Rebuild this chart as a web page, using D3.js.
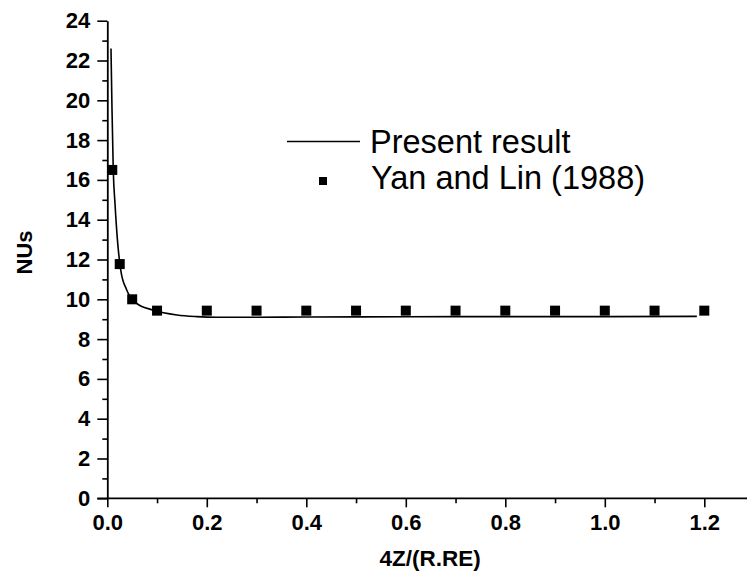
<!DOCTYPE html>
<html>
<head>
    <meta charset="utf-8">
    <title>NUs vs 4Z/(R.RE)</title>
    <style>
        body { margin: 0; background: #fff; }
        svg text { font-family: "Liberation Sans", Arial, sans-serif; }
    </style>
</head>
<body>
    <div id="grafico"></div>
    <script src="https://d3js.org/d3.v7.min.js"></script>
    <script>
        // Dados
        const curveX = [0.0074, 0.0095, 0.012, 0.0155, 0.02, 0.027, 0.039, 0.059, 0.092, 0.14, 0.18, 0.22, 0.3, 0.4, 0.6, 0.8, 1.0, 1.185];
        const curveY = [22.6, 19.5, 16.5, 14.8, 13.1, 11.47, 10.47, 9.8, 9.46, 9.21, 9.13, 9.1, 9.1, 9.11, 9.12, 9.13, 9.13, 9.14];

        const refX = [0.01, 0.025, 0.05, 0.1, 0.2, 0.3, 0.4, 0.5, 0.6, 0.7, 0.8, 0.9, 1.0, 1.1, 1.2];
        const refY = [16.5, 11.77, 10.0, 9.43, 9.43, 9.43, 9.43, 9.43, 9.43, 9.43, 9.43, 9.43, 9.43, 9.43, 9.43];

        const xTicks = [0, 0.2, 0.4, 0.6, 0.8, 1.0, 1.2];
        const xMinor = [0.1, 0.3, 0.5, 0.7, 0.9, 1.1];
        const yTicks = [0, 2, 4, 6, 8, 10, 12, 14, 16, 18, 20, 22, 24];
        const yMinor = [1, 3, 5, 7, 9, 11, 13, 15, 17, 19, 21, 23];

        const seriesNames = ["Present result", "Yan and Lin (1988)"];

        const W = 747, H = 577;

        const svg = d3.select("#grafico")
            .append("svg")
            .attr("width", W)
            .attr("height", H);

        // Escalas
        const x = d3.scaleLinear().domain([0, 1.2]).range([107.3, 704.3]);
        const y = d3.scaleLinear().domain([0, 24]).range([498.3, 20.7]);
        const xEnd = W; // eixo x vai até a borda

        // Eixo Y - menores
        svg.append("g")
            .attr("transform", `translate(${x(0)},0)`)
            .call(d3.axisLeft(y).tickValues(yMinor).tickSize(5).tickFormat(""))
            .call(g => g.select(".domain").remove())
            .selectAll("line").attr("stroke-width", 1.6);

        // Eixo Y - maiores
        const gy = svg.append("g")
            .attr("transform", `translate(${x(0)},0)`)
            .call(d3.axisLeft(y).tickValues(yTicks).tickSize(10).tickSizeOuter(0).tickPadding(7).tickFormat(d3.format("d")));
        gy.select(".domain").attr("stroke-width", 1.8);
        gy.selectAll("line").attr("stroke-width", 1.6);
        gy.selectAll("text")
            .style("font-size", "22px")
            .style("font-weight", "bold")
            .attr("fill", "#000");

        // Eixo X - menores
        svg.append("g")
            .attr("transform", `translate(0,${y(0)})`)
            .call(d3.axisBottom(x).tickValues(xMinor).tickSize(5).tickFormat(""))
            .call(g => g.select(".domain").remove())
            .selectAll("line").attr("stroke-width", 1.6);

        // Eixo X - maiores
        const gx = svg.append("g")
            .attr("transform", `translate(0,${y(0)})`)
            .call(d3.axisBottom(x).tickValues(xTicks).tickSize(9).tickSizeOuter(0).tickPadding(7).tickFormat(d3.format(".1f")));
        gx.select(".domain").remove();
        gx.selectAll("line").attr("stroke-width", 1.6);
        gx.selectAll("text")
            .style("font-size", "22px")
            .style("font-weight", "bold")
            .attr("fill", "#000");

        // linha do eixo x até a borda
        svg.append("line")
            .attr("x1", x(0) - 10).attr("x2", xEnd)
            .attr("y1", y(0)).attr("y2", y(0))
            .attr("stroke", "#000")
            .attr("stroke-width", 1.8);

        // Títulos dos eixos
        svg.append("text")
            .attr("x", 430)
            .attr("y", 566)
            .attr("text-anchor", "middle")
            .style("font-size", "22.5px")
            .style("font-weight", "bold")
            .text("4Z/(R.RE)");

        svg.append("text")
            .attr("transform", `translate(32,${(y(0) + y(24)) / 2 - 7}) rotate(-90)`)
            .attr("text-anchor", "middle")
            .style("font-size", "22px")
            .style("font-weight", "bold")
            .text("NUs");

        // Curva
        const line = d3.line()
            .x((d, i) => x(curveX[i]))
            .y(d => y(d))
            .curve(d3.curveMonotoneX);

        svg.append("path")
            .datum(curveY)
            .attr("d", line)
            .attr("fill", "none")
            .attr("stroke", "#000")
            .attr("stroke-width", 1.6);

        // Pontos de referência
        const sq = 10;
        svg.selectAll("rect.ref")
            .data(refY)
            .join("rect")
            .attr("class", "ref")
            .attr("x", (d, i) => x(refX[i]) - sq / 2)
            .attr("y", d => y(d) - sq / 2)
            .attr("width", sq)
            .attr("height", sq)
            .attr("fill", "#000");

        // Legenda
        const leg = svg.append("g");
        leg.append("line")
            .attr("x1", 287).attr("x2", 360)
            .attr("y1", 141.5).attr("y2", 141.5)
            .attr("stroke", "#000")
            .attr("stroke-width", 1.6);
        leg.append("text")
            .attr("x", 370).attr("y", 153)
            .style("font-size", "32.5px")
            .text(seriesNames[0]);
        leg.append("rect")
            .attr("x", 319).attr("y", 177)
            .attr("width", 8).attr("height", 8)
            .attr("fill", "#000");
        leg.append("text")
            .attr("x", 371).attr("y", 189)
            .style("font-size", "32.5px")
            .text(seriesNames[1]);
    </script>
</body>
</html>
